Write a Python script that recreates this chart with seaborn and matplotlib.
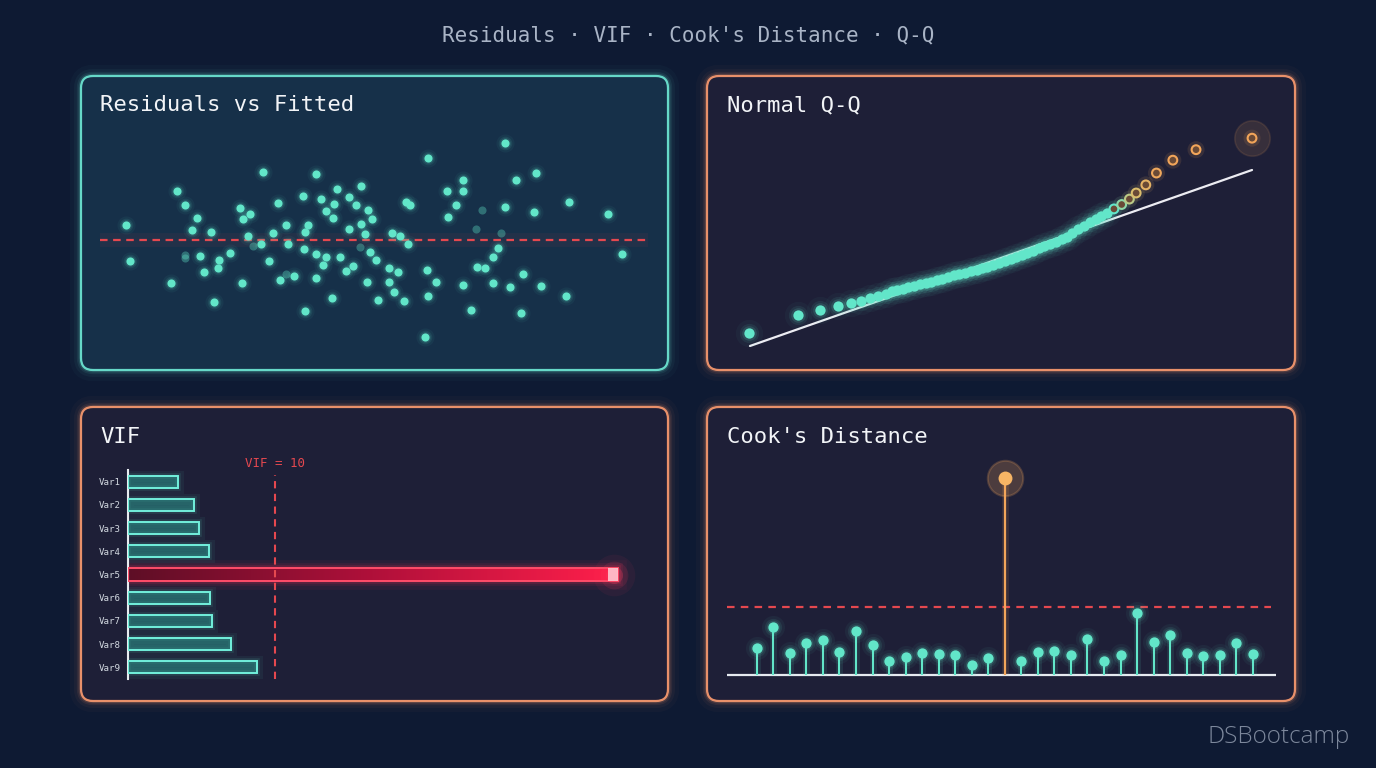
import matplotlib
matplotlib.use("Agg")
import matplotlib.pyplot as plt
from matplotlib.patches import FancyBboxPatch, Rectangle
from matplotlib.colors import LinearSegmentedColormap
import numpy as np
import pandas as pd
import seaborn as sns

# residuals vs fitted
fitted = [2.50, 2.70, 4.88, 5.20, 5.60, 5.98, 6.24, 6.42, 6.62, 7.02, 7.14, 7.36, 7.44, 8.00, 8.56,
          8.66, 8.68, 8.94, 9.06, 9.66, 9.78, 10.10, 10.28, 10.54, 10.68, 10.96, 11.06, 11.38, 11.86,
          11.94, 11.98, 12.00, 12.16, 12.56, 12.58, 12.58, 12.84, 12.94, 13.08, 13.12, 13.44, 13.48,
          13.54, 13.70, 13.82, 14.14, 14.30, 14.32, 14.52, 14.70, 14.96, 14.96, 15.18, 15.30, 15.34,
          15.42, 15.54, 15.78, 15.88, 16.46, 16.46, 16.60, 16.72, 16.90, 17.02, 17.26, 17.34, 17.48,
          17.58, 18.36, 18.48, 18.50, 18.52, 18.92, 19.54, 19.60, 20.00, 20.36, 20.40, 20.40, 20.80,
          21.10, 21.54, 21.96, 21.96, 22.26, 22.62, 22.62, 22.88, 23.18, 23.46, 23.56, 24.16, 24.24,
          24.52, 25.84, 26.00, 28.10, 28.82]
residuals = [0.45, -0.63, -1.29, 1.46, 1.06, 0.29, 0.66, -0.48, -0.96, 0.25, -1.86, -0.85, -0.60, -0.40, 0.95,
             -1.29, 0.62, 0.12, 0.77, -0.13, 2.03, -0.64, 0.22, 1.11, -1.19, 0.44, -0.12, -1.08, 1.31,
             -0.26, 0.25, -2.12, 0.46, -1.14, 1.99, -0.43, 1.22, -0.74, 0.88, -0.50, -1.75, 0.65,
             1.07, 1.54, -0.52, -0.94, 0.32, 1.28, -0.77, 1.05, 1.61, 0.48, 0.17, -1.26, 0.89,
             -0.37, 0.63, -0.61, -1.80, -0.85, -1.27, 0.22, -1.55, -0.95, 0.11, -1.83, 1.13, -0.11,
             1.04, -2.91, -0.90, 2.47, -1.68, -1.26, 1.46, 0.68, 1.06, 1.47, 1.81, -1.36, -2.09,
             -0.80, -0.83, -0.52, -1.30, -0.25, 2.92, 1.00, -1.42, 1.79, -2.19, -1.02, 0.83, 2.01,
             -1.39, -1.69, 1.15, 0.78, -0.43]
faint_fitted = [5.64, 5.64, 9.22, 10.96, 14.90, 21.04, 21.40, 22.42]
faint_residuals = [-0.45, -0.55, -0.19, -1.03, -0.21, 0.33, 0.90, 0.21]

# normal Q-Q
qq_theoretical = [-2.61, -2.10, -1.87, -1.69, -1.55, -1.45, -1.36, -1.27, -1.19,
                  -1.13, -1.08, -1.02, -0.96, -0.90, -0.84, -0.78, -0.72, -0.66, -0.61, -0.55, -0.49,
                  -0.43, -0.37, -0.31, -0.25, -0.20, -0.14, -0.08, -0.02, 0.04, 0.10, 0.16, 0.22,
                  0.27, 0.33, 0.39, 0.45, 0.51, 0.57, 0.63, 0.68, 0.74, 0.80, 0.86, 0.92, 0.98, 1.04, 1.10]
qq_sample = [-2.22, -1.67, -1.54, -1.42, -1.34, -1.26, -1.18, -1.11, -1.05,
             -0.99, -0.95, -0.91, -0.87, -0.82, -0.78, -0.75, -0.70, -0.66, -0.61, -0.56, -0.51,
             -0.47, -0.43, -0.39, -0.35, -0.31, -0.26, -0.21, -0.16, -0.10, -0.03, 0.02, 0.09,
             0.16, 0.22, 0.29, 0.36, 0.42, 0.48, 0.55, 0.63, 0.74, 0.85, 0.95, 1.05, 1.14, 1.23, 1.32]
qq_tail_theoretical = [1.17, 1.25, 1.33, 1.40, 1.50, 1.61, 1.78, 2.02, 2.60]
qq_tail_sample = [1.45, 1.58, 1.74, 1.92, 2.16, 2.51, 2.89, 3.20, 3.54]
qq_line = [-2.6, 2.6]

# VIF
vif_labels = ['Var1', 'Var2', 'Var3', 'Var4', 'Var5', 'Var6', 'Var7', 'Var8', 'Var9']
vif_values = [3.4, 4.5, 4.8, 5.5, 33.3, 5.6, 5.7, 7.0, 8.8]
vif_threshold = 10

# Cook's distance
cooks_d = [0.040, 0.071, 0.032, 0.047, 0.051, 0.034, 0.064, 0.044, 0.020, 0.027, 0.033, 0.031,
           0.030, 0.014, 0.025, 0.290, 0.020, 0.034, 0.035, 0.030, 0.053, 0.021, 0.029, 0.091,
           0.049, 0.059, 0.033, 0.028, 0.029, 0.047, 0.031]
cooks_threshold = 0.1

BG = '#0e1a33'
TEAL = '#62e6c9'
ORANGE = '#f2a55a'
RED = '#e5484f'
MONO = ['DejaVu Sans Mono']
W, H = 1376, 768

sns.set_theme(style='dark')
plt.rcParams['font.family'] = ['DejaVu Sans Mono', 'DejaVu Sans']

fig = plt.figure(figsize=(W / 100, H / 100), dpi=100)
fig.patch.set_facecolor(BG)

canvas = fig.add_axes([0, 0, 1, 1], zorder=-5)
canvas.set_xlim(0, W)
canvas.set_ylim(H, 0)
canvas.axis('off')


def panel(x0, y0, x1, y1, edge, face):
    for lw, a in [(16, 0.03), (10, 0.05), (6, 0.09), (3.5, 0.18)]:
        canvas.add_patch(FancyBboxPatch((x0, y0), x1 - x0, y1 - y0,
                                        boxstyle='round,pad=0,rounding_size=12',
                                        fc='none', ec=edge, lw=lw, alpha=a))
    canvas.add_patch(FancyBboxPatch((x0, y0), x1 - x0, y1 - y0,
                                    boxstyle='round,pad=0,rounding_size=12',
                                    fc=face, ec=edge, lw=1.6))


panel(81, 76, 668, 370, '#66d8c8', '#163049')
panel(707, 76, 1295, 370, '#e8906a', '#1e1f37')
panel(81, 407, 668, 701, '#e8906a', '#1e1f37')
panel(707, 407, 1295, 701, '#e8906a', '#1e1f37')


def data_axes(x0, y0, x1, y1):
    ax = fig.add_axes([x0 / W, 1 - y1 / H, (x1 - x0) / W, (y1 - y0) / H])
    ax.set_facecolor('none')
    for s in ax.spines.values():
        s.set_visible(False)
    ax.set_xticks([])
    ax.set_yticks([])
    ax.grid(False)
    return ax


def glow_scatter(ax, x, y, color, size, zorder=3):
    for k, a in [(5.0, 0.05), (2.8, 0.09), (1.7, 0.15)]:
        ax.scatter(x, y, s=size * k, color=color, alpha=a, lw=0, zorder=zorder)


# ---- Residuals vs Fitted
ax1 = data_axes(100, 130, 648, 350)
res_df = pd.DataFrame({'fitted': fitted, 'resid': residuals})
ax1.axhline(0, color=RED, lw=10, alpha=0.06, zorder=1)
ax1.axhline(0, color=RED, lw=1.6, dashes=(3.4, 2.5), zorder=2)
glow_scatter(ax1, fitted, residuals, TEAL, 34)
sns.scatterplot(data=res_df, x='fitted', y='resid', ax=ax1, s=34, color=TEAL, lw=0, zorder=4)
sns.scatterplot(x=faint_fitted, y=faint_residuals, ax=ax1, s=34, color=TEAL, alpha=0.35, lw=0, zorder=4)
ax1.set_xlim(1.1, 30.2)
ax1.set_ylim(-3.3, 3.3)
ax1.set_xlabel('')
ax1.set_ylabel('')

# ---- Normal Q-Q
ax2 = data_axes(735, 120, 1275, 360)
ax2.plot(qq_line, qq_line, color='#ececf2', lw=1.6, zorder=2)
for k, a in [(7.0, 0.04), (3.5, 0.08), (2.0, 0.14)]:
    ax2.scatter(qq_theoretical, qq_sample, s=55 * k, color=TEAL, alpha=a, lw=0, zorder=3)
sns.scatterplot(x=qq_theoretical, y=qq_sample, ax=ax2, s=55, color=TEAL, lw=0, zorder=4)
tail_cmap = LinearSegmentedColormap.from_list('tail', [TEAL, '#d8c070', ORANGE, ORANGE])
tail_cols = [tail_cmap(t) for t in np.linspace(0, 1, len(qq_tail_theoretical))]
ax2.scatter(qq_tail_theoretical, qq_tail_sample, s=150, color=tail_cols, alpha=0.12, lw=0, zorder=3)
sns.scatterplot(x=qq_tail_theoretical, y=qq_tail_sample, ax=ax2, s=40, facecolor='#6a4a36',
                edgecolor=tail_cols, linewidth=1.5, zorder=5)
ax2.scatter(qq_tail_theoretical[-1:], qq_tail_sample[-1:], s=650, color=ORANGE, alpha=0.12,
            edgecolor=ORANGE, lw=1.2, zorder=4)
ax2.set_xlim(-2.755, 2.838)
ax2.set_ylim(-3.014, 4.077)

# ---- VIF
ax3 = data_axes(128, 470, 640, 679)
sns.barplot(x=vif_values, y=vif_labels, ax=ax3, orient='h', width=0.52, color='#2a8078',
            errorbar=None, zorder=3)
bars = list(ax3.patches)
worst = int(np.argmax(vif_values))
for i, p in enumerate(bars):
    x0, y0, w, h = p.get_x(), p.get_y(), p.get_width(), p.get_height()
    if i == worst:
        p.set_facecolor('none')
        p.set_edgecolor('#ff4d6a')
        p.set_linewidth(1.4)
        grad = np.linspace(0, 1, 256).reshape(1, -1)
        cmap = LinearSegmentedColormap.from_list('red', ['#5e0e26', '#b0103a', '#ff1f4b'])
        ax3.imshow(grad, extent=(x0, x0 + w, y0 + h, y0), cmap=cmap, aspect='auto', zorder=2)
        for lw, a in [(12, 0.05), (7, 0.09), (4, 0.16)]:
            ax3.add_patch(Rectangle((x0, y0), w, h, fill=False, ec='#ff2d55', lw=lw, alpha=a, zorder=1))
        for s, a in [(900, 0.06), (400, 0.12), (150, 0.25)]:
            ax3.scatter([x0 + w - 0.3], [y0 + h / 2], s=s, color='#ff4060', alpha=a, lw=0, zorder=4)
        ax3.add_patch(Rectangle((x0 + w - 0.7, y0), 0.7, h, color='#ffd0d8', alpha=0.85, lw=0, zorder=4))
    else:
        p.set_facecolor((0.17, 0.55, 0.52, 0.6))
        p.set_edgecolor('#72f0dc')
        p.set_linewidth(1.4)
        for lw, a in [(8, 0.06), (4, 0.12)]:
            ax3.add_patch(Rectangle((x0, y0), w, h, fill=False, ec=TEAL, lw=lw, alpha=a, zorder=1))
ax3.axvline(vif_threshold, ymin=0.0, ymax=0.975, color=RED, lw=1.5, dashes=(3.5, 2.6), zorder=5)
ax3.text(vif_threshold, -0.8, f'VIF = {vif_threshold}', color=RED, fontsize=9, ha='center',
         va='center', family=MONO, clip_on=False)
ax3.spines['left'].set_visible(True)
ax3.spines['left'].set_color('#e8ecf0')
ax3.spines['left'].set_linewidth(1.5)
ax3.set_yticks(range(len(vif_labels)))
ax3.set_yticklabels(vif_labels, family=MONO, fontsize=6.6, color='#d2d8e0')
ax3.tick_params(axis='y', length=0, pad=5)
ax3.set_xlim(0, 34.8)
ax3.set_ylim(8.5, -0.5)
ax3.set_xlabel('')
ax3.set_ylabel('')

# ---- Cook's distance
ax4 = data_axes(727, 455, 1276, 680)
cook_df = pd.DataFrame({'obs': np.arange(len(cooks_d)), 'd': cooks_d})
big = cook_df['d'] > cooks_threshold * 2
small = cook_df[~big]
outl = cook_df[big]
ax4.axhline(0, color='#e6eaf0', lw=1.6, zorder=2)
ax4.axhline(cooks_threshold, xmax=0.99, color=RED, lw=1.6, dashes=(3.4, 2.8), zorder=2)
ax4.vlines(small['obs'], 0, small['d'], color=TEAL, lw=5, alpha=0.1, zorder=2)
ax4.vlines(small['obs'], 0, small['d'], color=TEAL, lw=1.5, zorder=3)
glow_scatter(ax4, small['obs'], small['d'], TEAL, 55)
sns.scatterplot(data=small, x='obs', y='d', ax=ax4, s=55, color=TEAL, lw=0, zorder=4)
ax4.vlines(outl['obs'], 0, outl['d'], color=ORANGE, lw=5, alpha=0.12, zorder=2)
ax4.vlines(outl['obs'], 0, outl['d'], color=ORANGE, lw=1.6, zorder=3)
ax4.scatter(outl['obs'], outl['d'], s=650, color=ORANGE, alpha=0.22, edgecolor=ORANGE, lw=1.5, zorder=4)
sns.scatterplot(data=outl, x='obs', y='d', ax=ax4, s=100, color='#f7b565', lw=0, zorder=5)
ax4.set_xlim(-1.8, 31.4)
ax4.set_ylim(-0.0074, 0.3235)
ax4.set_xlabel('')
ax4.set_ylabel('')

# ---- texts
fig.text(0.5, 1 - 35 / H, "Residuals · VIF · Cook's Distance · Q-Q", ha='center', va='center',
         fontsize=15, color='#a9b4c6', family=MONO)
for label, x, y in [('Residuals vs Fitted', 100, 105), ('Normal Q-Q', 727, 105),
                    ('VIF', 100, 437), ("Cook's Distance", 727, 437)]:
    fig.text(x / W, 1 - y / H, label, ha='left', va='center', fontsize=16, color='#f2f4f7', family=MONO)
fig.text(1350 / W, 1 - 737 / H, 'DSBootcamp', ha='right', va='center', fontsize=17.5,
         color='#7d889c', family=['Open Sans', 'DejaVu Sans'], fontweight='light')

fig.savefig('out.png', dpi=100, facecolor=BG)
